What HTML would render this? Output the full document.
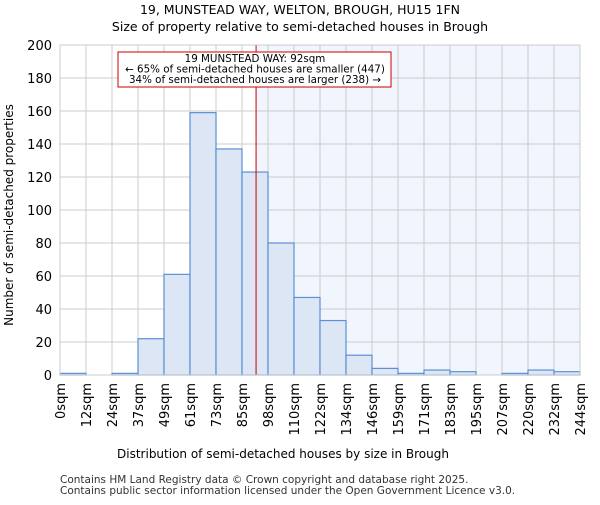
<!DOCTYPE html>
<html><head><meta charset="utf-8"><style>body{margin:0;background:#fff}svg{font-family:"DejaVu Sans","Liberation Sans",sans-serif}</style></head>
<body>
<svg id="c" width="600" height="500" xmlns="http://www.w3.org/2000/svg">
<text x="300" y="14" text-anchor="middle" font-size="12.5">19, MUNSTEAD WAY, WELTON, BROUGH, HU15 1FN</text>
<text x="300" y="31" text-anchor="middle" font-size="12.5">Size of property relative to semi-detached houses in Brough</text>
<g id="plot"></g>
<text x="283" y="458" text-anchor="middle" font-size="12">Distribution of semi-detached houses by size in Brough</text>
<text transform="translate(13,215) rotate(-90)" text-anchor="middle" font-size="12">Number of semi-detached properties</text>
<text x="60" y="483" font-size="10.5" fill="#333">Contains HM Land Registry data © Crown copyright and database right 2025.</text>
<text x="60" y="494" font-size="10.5" fill="#333">Contains public sector information licensed under the Open Government Licence v3.0.</text>
</svg>
<script>
const binLabels=["0sqm","12sqm","24sqm","37sqm","49sqm","61sqm","73sqm","85sqm","98sqm","110sqm","122sqm","134sqm","146sqm","159sqm","171sqm","183sqm","195sqm","207sqm","220sqm","232sqm","244sqm"];
const binEdges=[0,12.2,24.4,36.6,48.8,61,73.2,85.4,97.6,109.8,122,134.2,146.4,158.6,170.8,183,195.2,207.4,219.6,231.8,244];
const counts=[1,0,1,22,61,159,137,123,80,47,33,12,4,1,3,2,0,1,3,2];
const yTicks=[0,20,40,60,80,100,120,140,160,180,200];
const propertySize=92;
const L=60,R=580,T=45,B=375,ymax=200;
const NS="http://www.w3.org/2000/svg";
const g=document.getElementById('plot');
const xs=v=>{for(let i=0;i<binEdges.length-1;i++){if(v<=binEdges[i+1]){return L+(i+(v-binEdges[i])/(binEdges[i+1]-binEdges[i]))*(R-L)/(binEdges.length-1);}}return R;};
const xi=i=>L+i*(R-L)/(binEdges.length-1);
const ys=v=>B-v/ymax*(B-T);
function mk(t,a,p){const e=document.createElementNS(NS,t);for(const k in a)e.setAttribute(k,a[k]);(p||g).appendChild(e);return e;}
const px=xs(propertySize);
let e=mk('rect',{x:px,y:T,width:R-px,height:B-T,fill:'#f1f5fd'});


yTicks.forEach(v=>{let l=mk('line',{x1:L,x2:R,y1:ys(v),y2:ys(v),stroke:'#cccccc','stroke-width':1});


let t=mk('text',{x:L-8,y:ys(v)+5,'text-anchor':'end','font-size':13});t.textContent=v;

});
binLabels.forEach((s,i)=>{let l=mk('line',{x1:xi(i),x2:xi(i),y1:T,y2:B,stroke:'#cccccc','stroke-width':1});


let t=mk('text',{transform:`translate(${xi(i)+5},383) rotate(-90)`,'text-anchor':'end','font-size':13});t.textContent=s;

});
counts.forEach((c,i)=>{let r=mk('rect',{x:xi(i),y:ys(c),width:xi(i+1)-xi(i),height:B-ys(c),fill:'#dce6f4',stroke:'#5b8fd6','stroke-width':1.2});

});
let rl=mk('line',{x1:px,x2:px,y1:T,y2:B,stroke:'#cc0000','stroke-width':1});


let box=mk('rect',{x:118,y:52,width:273,height:35,fill:'#fff',stroke:'#cc0000','stroke-width':1});


["19 MUNSTEAD WAY: 92sqm","← 65% of semi-detached houses are smaller (447)","34% of semi-detached houses are larger (238) →"].forEach((s,i)=>{let t=mk('text',{x:255,y:62+i*10.5,'text-anchor':'middle','font-size':10.3});t.textContent=s;

});
let ax=mk('rect',{x:L,y:T,width:R-L,height:B-T,fill:'none',stroke:'#cccccc'});


</script>
</body></html>
